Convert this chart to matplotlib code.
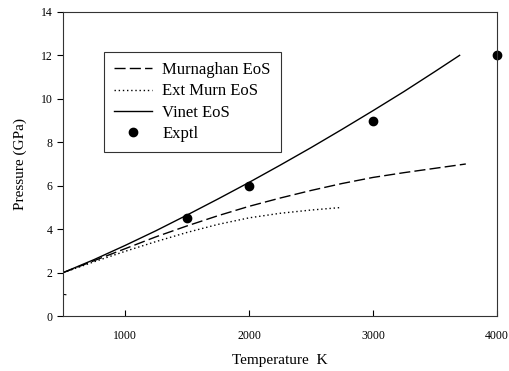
import matplotlib
matplotlib.use('Agg')
import matplotlib.pyplot as plt

# Data
temp_vinet = [500, 750, 1000, 1250, 1500, 1750, 2000, 2250, 2500, 2750, 3000, 3250, 3500, 3700]
p_vinet = [2.0, 2.6, 3.25, 3.93, 4.65, 5.39, 6.15, 6.94, 7.75, 8.59, 9.45, 10.33, 11.25, 12.0]

temp_murn = [500, 750, 1000, 1250, 1500, 1750, 2000, 2250, 2500, 2750, 3000, 3250, 3500, 3750]
p_murn = [2.0, 2.55, 3.1, 3.65, 4.15, 4.62, 5.05, 5.43, 5.78, 6.1, 6.38, 6.6, 6.8, 7.0]

temp_extmurn = [500, 750, 1000, 1250, 1500, 1750, 2000, 2250, 2500, 2750]
p_extmurn = [2.0, 2.5, 2.98, 3.43, 3.85, 4.22, 4.52, 4.73, 4.88, 5.0]

temp_stray = [500, 540]
p_stray = [1.0, 0.97]

temp_exptl = [1500, 2000, 3000, 4000]
p_exptl = [4.5, 6.0, 9.0, 12.0]

plt.rcParams['font.family'] = ['Liberation Serif', 'DejaVu Serif']

fig = plt.figure(figsize=(5.09, 3.71), dpi=100)
ax = fig.add_axes([0.124, 0.148, 0.852, 0.820])

ax.plot(temp_murn, p_murn, color='black', lw=1.0, linestyle=(0, (8, 3)), label='Murnaghan EoS')
ax.plot(temp_extmurn, p_extmurn, color='black', lw=1.0, linestyle=(0, (1, 2)), label='Ext Murn EoS')
ax.plot(temp_vinet, p_vinet, color='black', lw=1.0, label='Vinet EoS')
ax.plot(temp_stray, p_stray, color='black', lw=0.8, linestyle=(0, (3, 3)))
ax.plot(temp_exptl, p_exptl, 'o', color='black', markersize=6, clip_on=False, label='Exptl')

ax.set_xlim(500, 4000)
ax.set_ylim(0, 14)
ax.set_xticks([1000, 2000, 3000, 4000])
ax.set_yticks([0, 2, 4, 6, 8, 10, 12, 14])
ax.tick_params(axis='x', direction='in', length=4, labelsize=8.5, pad=10)
ax.tick_params(axis='y', direction='out', length=4, labelsize=8.5)
for s in ax.spines.values():
    s.set_linewidth(0.8)
    s.set_color('#333333')

ax.set_xlabel('Temperature  K', fontsize=11, labelpad=9)
ax.set_ylabel('Pressure (GPa)', fontsize=11, labelpad=10)

leg = ax.legend(loc='upper left', bbox_to_anchor=(0.0945, 0.868), fontsize=12, frameon=True,
                fancybox=False, edgecolor='black', borderpad=0.6, handlelength=2.3,
                handletextpad=0.6, labelspacing=0.32, borderaxespad=0)
leg.get_frame().set_linewidth(0.8)

plt.savefig('out.png', dpi=100)
